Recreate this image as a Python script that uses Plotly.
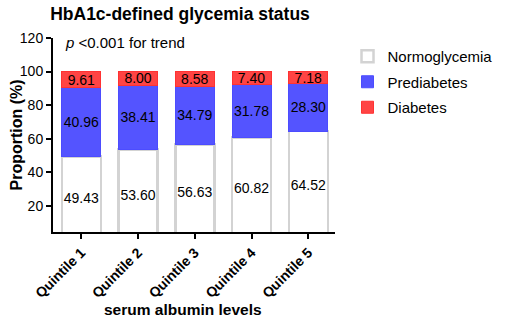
import plotly.graph_objects as go

categories = ["Quintile 1", "Quintile 2", "Quintile 3", "Quintile 4", "Quintile 5"]
normo = [49.43, 53.60, 56.63, 60.82, 64.52]
prediab = [40.96, 38.41, 34.79, 31.78, 28.30]
diab = [9.61, 8.00, 8.58, 7.40, 7.18]
y_ticks = [20, 40, 60, 80, 100, 120]

FONT = "Liberation Sans, Arial, sans-serif"
W, H = 510, 322
L, R, T, B = 53, 346, 38, 232  # plot area pixel edges


def px(x):
    return (x - L) / (R - L)


def py(y):
    return (B - y) / (B - T)


fig = go.Figure()
series = [
    ("Normoglycemia", normo, "white", "#d3d3d3", 2.5),
    ("Prediabetes", prediab, "#5454ff", "#4c4cff", 1),
    ("Diabetes", diab, "#ff4444", "#ff3232", 1),
]
for i, (name, vals, fill, line, lw) in enumerate(series):
    fig.add_trace(go.Bar(
        x=categories, y=vals, name=name, legendgroup=f"g{i}",
        marker=dict(color=fill, line=dict(color=line, width=lw)),
        text=[f"{v:.2f}" for v in vals], textposition="inside",
        insidetextanchor="middle", textangle=0,
        textfont=dict(family=FONT, size=14, color="black"),
    ))

fig.update_layout(
    barmode="stack", bargap=0.31,
    width=W, height=H,
    margin=dict(l=L, r=W - R, t=T, b=H - B),
    plot_bgcolor="white", paper_bgcolor="white",
    font=dict(family=FONT, color="black"),
    uniformtext=dict(mode="show", minsize=14),
    title=dict(text="<b>HbA1c-defined glycemia status</b>", x=180 / W, xanchor="center",
               xref="container", y=1 - 14 / H, yanchor="middle", yref="container",
               font=dict(size=17.5, family=FONT)),
    legend=dict(x=px(359), y=py(40), xanchor="left", yanchor="top", traceorder="grouped",
                font=dict(size=15, family=FONT), itemwidth=30, tracegroupgap=3,
                bgcolor="rgba(0,0,0,0)"),
    annotations=[
        dict(text="<i>p</i> <0.001 for trend", xref="paper", x=px(63), yref="paper", y=py(42),
             showarrow=False, xanchor="left", yanchor="middle",
             font=dict(size=15, family=FONT)),
        dict(text="<b>Proportion (%)</b>", xref="paper", x=px(15), yref="paper", y=py(135),
             showarrow=False, xanchor="center", yanchor="middle", textangle=-90,
             font=dict(size=16, family=FONT)),
        dict(text="<b>serum albumin levels</b>", xref="paper", x=px(188), yref="paper", y=py(309),
             showarrow=False, xanchor="center", yanchor="middle",
             font=dict(size=15.5, family=FONT)),
    ],
)

fig.update_yaxes(range=[4.5, 120], tickvals=y_ticks, showgrid=False, zeroline=False,
                 showline=True, linecolor="black", linewidth=2, automargin=False,
                 ticks="outside", ticklen=5, tickwidth=2, tickcolor="black",
                 tickfont=dict(size=14, family=FONT), tickprefix="<b>", ticksuffix="</b>")
fig.update_xaxes(range=[-0.5, 4.47], showgrid=False, zeroline=False,
                 showline=True, linecolor="black", linewidth=2, automargin=False,
                 ticks="outside", ticklen=5, tickwidth=2, tickcolor="black",
                 tickangle=-45, tickfont=dict(size=14, family=FONT),
                 tickvals=categories, ticktext=[f"<b>{c}</b>" for c in categories])

fig.write_html("out.html", config={"displayModeBar": False},
               post_script="document.body.style.margin='0';document.body.style.overflow='hidden';")
